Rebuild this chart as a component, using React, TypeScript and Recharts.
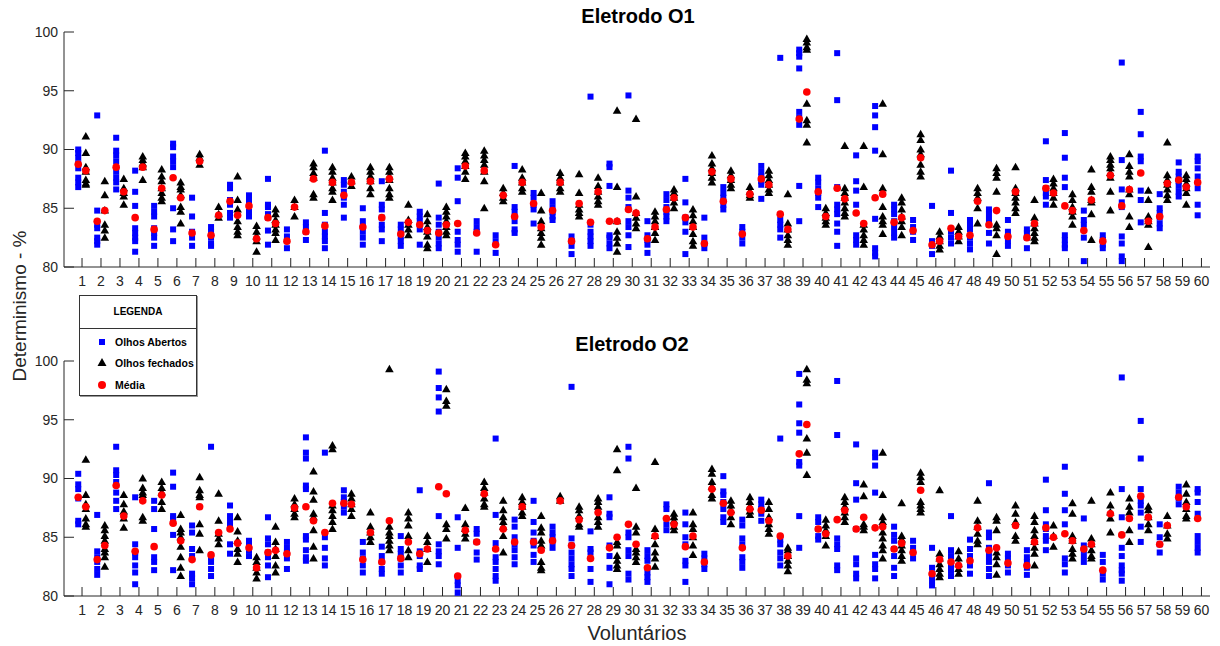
import { ScatterChart, Scatter, XAxis, YAxis } from "recharts";

// volunteers 1..60 (x categories)
const volunteers = [
  1, 2, 3, 4, 5, 6, 7, 8, 9, 10, 11, 12, 13, 14, 15, 16, 17, 18, 19, 20,
  21, 22, 23, 24, 25, 26, 27, 28, 29, 30, 31, 32, 33, 34, 35, 36, 37, 38, 39, 40,
  41, 42, 43, 44, 45, 46, 47, 48, 49, 50, 51, 52, 53, 54, 55, 56, 57, 58, 59, 60,
];
const yTicks = [80, 85, 90, 95, 100];

// Eletrodo O1 - olhos abertos
const o1Open: number[][] = [
  [90.0, 89.7, 89.3, 88.8, 88.4, 87.6, 87.2, 86.8],
  [92.9, 84.8, 83.6, 83.3, 82.5, 82.2, 81.9],
  [91.0, 89.9, 89.5, 89.0, 88.1, 87.6, 87.2, 86.6],
  [88.2, 86.4, 85.2, 83.3, 82.9, 82.5, 82.2, 81.3],
  [85.2, 84.7, 84.3, 83.3, 82.9, 82.5, 81.8],
  [90.5, 90.2, 89.4, 89.0, 88.5, 85.0, 83.2, 82.2],
  [85.9, 84.3, 83.0, 82.5, 81.8],
  [83.4, 83.0, 82.5, 82.0, 81.8],
  [87.0, 86.7, 85.7, 85.3, 84.6, 84.2],
  [86.1, 85.7, 84.7, 84.3],
  [87.5, 85.3, 85.1, 84.5, 84.2, 83.1, 81.9],
  [83.2, 82.6, 82.2, 81.6],
  [83.8, 83.4, 83.0, 82.3],
  [89.9, 84.6, 83.6, 83.0, 82.6, 82.2, 81.6],
  [87.4, 87.0, 86.4, 85.9, 85.3, 84.2],
  [85.0, 83.9, 83.4, 83.0, 82.5, 81.9],
  [87.3, 85.3, 84.9, 84.2, 83.6, 83.2, 82.2],
  [83.6, 83.2, 82.6, 82.2, 81.8],
  [84.7, 84.3, 83.9, 83.2, 81.9],
  [87.1, 84.2, 83.6, 83.0, 82.5, 82.0, 81.6],
  [88.4, 87.6, 85.6, 83.0, 82.3, 81.9, 81.3],
  [83.9, 83.4, 83.0, 81.3],
  [82.7, 82.2, 81.2],
  [88.6, 85.1, 84.7, 83.9, 83.2, 82.9],
  [86.3, 85.9, 85.3, 84.9, 83.7],
  [85.6, 85.1, 84.7, 84.3, 84.0],
  [82.6, 82.2, 81.8, 81.1],
  [94.5, 83.6, 83.0, 82.6, 82.2, 81.8],
  [88.8, 88.5, 86.9, 82.7, 82.5, 82.0, 81.6],
  [94.6, 86.5, 85.9, 85.1, 83.9, 83.4, 82.7, 81.7],
  [83.9, 82.7, 82.3, 81.9, 81.2],
  [86.2, 85.7, 85.1, 84.7, 84.3, 83.9],
  [87.5, 85.5, 84.2, 83.8, 83.0, 81.1],
  [84.2, 82.5, 82.0, 81.6],
  [86.8, 86.3, 85.9, 85.3, 84.9],
  [83.4, 83.0, 82.5, 82.0],
  [88.6, 88.1, 87.7, 87.3, 87.0, 85.8],
  [97.8, 84.0, 83.6, 83.2, 82.5],
  [98.5, 98.2, 97.9, 96.9, 93.2, 92.7, 92.1, 86.9, 83.9],
  [87.6, 87.2, 86.7, 86.3, 85.9, 85.1],
  [98.2, 94.2, 86.8, 85.3, 84.9, 84.5, 83.7, 83.0, 81.8],
  [89.5, 87.3, 86.5, 85.3, 82.7, 82.3, 81.9],
  [93.7, 92.9, 91.9, 89.9, 84.1, 81.6, 81.2, 80.9],
  [85.3, 84.9, 84.5, 83.9, 83.4, 82.9, 82.5],
  [84.0, 83.4, 83.0, 82.3],
  [85.2, 82.2, 81.8, 81.1],
  [88.2, 84.6, 83.0, 82.5, 82.0],
  [84.0, 83.6, 83.2, 82.5, 82.0, 81.5],
  [84.9, 84.5, 84.0, 83.6, 82.9, 82.0],
  [84.0, 83.0, 82.6, 82.2, 81.8],
  [83.2, 82.9, 82.5, 81.6],
  [90.7, 87.4, 86.7, 86.3, 86.0, 85.3],
  [91.4, 89.3, 87.6, 86.8, 82.7, 82.3, 81.9, 81.6],
  [84.8, 84.0, 83.6, 82.5, 80.5],
  [82.7, 82.3, 81.9, 81.6],
  [97.4, 89.1, 86.6, 85.5, 85.1, 82.6, 82.0, 80.9, 80.5],
  [93.2, 91.3, 89.4, 89.0, 86.5, 85.7, 83.8],
  [86.2, 85.0, 84.6, 84.2, 83.7, 83.3],
  [88.9, 88.1, 87.7, 87.3, 86.9, 86.4, 86.0],
  [89.4, 89.0, 88.4, 87.7, 86.7, 85.3, 84.4],
];

// Eletrodo O1 - olhos fechados
const o1Closed: number[][] = [
  [91.1, 89.7, 88.5, 88.1, 87.4, 87.1, 87.0],
  [87.3, 86.1, 84.8, 83.6, 83.1, 82.5],
  [87.5, 86.7, 86.3, 86.0, 85.3],
  [89.4, 89.1, 88.8, 88.5, 87.4],
  [88.3, 87.7, 87.3, 86.7, 86.3, 85.9, 85.6],
  [87.2, 86.8, 86.6, 86.1, 85.1, 84.7, 83.7],
  [89.6, 89.3, 88.7],
  [85.1, 84.5, 84.2],
  [87.7, 85.7, 84.9, 83.9, 83.4, 83.0, 82.7],
  [83.5, 83.0, 82.6, 82.2, 81.3],
  [84.9, 84.5, 84.0, 83.6, 83.2, 82.9, 82.3],
  [85.7, 85.1, 84.3],
  [88.8, 88.5, 88.0, 87.6, 86.2, 85.9],
  [88.5, 88.1, 87.6, 87.2, 86.7, 86.4, 85.7],
  [87.7, 87.3, 86.9],
  [88.5, 88.1, 87.7, 87.3, 86.7, 86.2],
  [88.5, 88.1, 87.7, 87.4, 86.7, 86.2, 85.9],
  [85.3, 84.0, 83.6, 83.2, 82.7],
  [84.5, 83.9, 83.4, 83.0, 82.6, 81.9, 81.6],
  [85.1, 84.7, 84.3, 83.9, 83.4, 83.0, 82.7],
  [89.7, 89.4, 89.0, 88.6, 88.1, 87.5],
  [89.9, 89.5, 89.1, 88.7, 88.1, 87.3, 85.0],
  [86.7, 86.3, 85.9, 85.6],
  [88.3, 87.6, 87.2, 86.7, 86.4],
  [86.3, 84.8, 83.9, 83.3, 82.9, 82.5, 81.9],
  [88.0, 87.6, 87.2, 86.7, 86.4],
  [87.9, 86.3, 85.3, 84.9, 84.6, 84.3],
  [87.6, 86.9, 86.4, 86.0, 85.6, 85.3],
  [93.3, 86.8, 83.9, 83.0, 82.5, 82.0, 81.3],
  [92.6, 86.0, 84.6, 84.2, 83.7, 83.3],
  [84.7, 84.3, 83.9, 83.4, 82.9, 82.3],
  [86.6, 86.3, 85.9, 85.5, 85.0],
  [84.9, 84.4, 83.9, 83.4, 82.8, 82.2, 81.8],
  [89.5, 88.8, 88.4, 88.0, 87.6, 87.2],
  [88.2, 87.8, 87.4, 87.0, 86.7],
  [86.8, 86.4, 86.1, 85.9],
  [88.2, 87.8, 87.4, 87.0, 86.6, 86.3],
  [86.2, 83.7, 83.2, 82.7, 82.3, 81.9],
  [99.4, 99.1, 98.7, 98.5, 93.9, 92.5, 92.1, 90.6],
  [85.0, 84.6, 84.2, 83.9, 83.6],
  [90.3, 86.7, 86.3, 85.9, 85.5, 85.0, 84.6, 84.3],
  [90.3, 86.8, 83.6, 83.2, 82.7, 82.3, 81.9],
  [93.9, 89.6, 86.7, 85.1, 84.3, 83.9, 83.6, 82.8],
  [85.9, 85.5, 84.9, 84.3, 83.9, 83.4, 82.7],
  [91.3, 90.8, 90.0, 89.6, 88.7, 88.1, 87.7],
  [83.0, 82.6, 82.2, 81.8, 81.5],
  [83.4, 83.0, 82.6, 82.2],
  [86.7, 86.3, 85.9, 85.0, 83.7],
  [88.4, 88.0, 87.6, 86.4, 83.6, 83.3, 82.7, 81.1],
  [88.5, 86.7, 86.3, 85.9, 85.5, 85.0, 84.6],
  [85.7, 84.2, 83.7, 83.3, 82.9, 82.5, 82.2],
  [87.5, 87.1, 86.7, 86.3, 85.9, 85.3],
  [86.2, 85.7, 85.1, 84.7, 84.3, 83.6],
  [88.3, 86.8, 86.4, 85.7, 85.5, 84.5, 82.3],
  [89.4, 89.1, 88.7, 88.4, 88.0, 87.6, 86.4, 84.8],
  [89.6, 88.6, 88.1, 87.7, 86.6, 86.2, 84.3, 83.4],
  [86.5, 85.7, 84.3, 83.9, 83.6, 81.7],
  [90.6, 87.8, 87.4, 87.0, 86.6, 86.1, 85.7],
  [87.8, 87.5, 87.1, 86.7, 86.3, 85.3],
  [],
];

const o1OpenMean: (number | null)[] = [
  88.75, 83.9, 88.5, 84.2, 83.2, 87.6, 82.9, 82.7, 85.6, 85.2,
  84.2, 82.2, 83.0, 83.5, 86.1, 83.4, 84.2, 82.8, 83.6, 82.9,
  83.7, 82.9, 81.9, 84.3, 85.4, 84.8, 82.2, 83.8, 83.9, 84.9,
  82.4, 84.9, 84.2, 82.0, 85.6, 82.8, 87.5, 84.5, 92.6, 86.4,
  86.7, 84.6, 85.9, 83.8, 83.1, 81.9, 83.3, 82.7, 83.6, 82.6,
  82.5, 86.7, 85.2, 83.1, 82.2, 85.2, 88.0, 84.3, 87.4, 87.2,
];

const o1ClosedMean: (number | null)[] = [
  88.2, 84.8, 86.4, 88.5, 86.7, 85.9, 89.0, 84.4, 84.4, 82.4,
  83.7, 85.1, 87.5, 87.2, 87.2, 87.3, 87.5, 83.8, 83.1, 83.6,
  88.6, 88.2, 86.1, 87.2, 83.4, 87.2, 85.4, 86.4, 83.9, 84.6,
  83.4, 85.9, 83.4, 88.1, 87.5, 86.2, 87.0, 83.2, 94.9, 84.3,
  85.8, 83.7, 86.2, 84.2, 89.3, 82.2, 82.6, 85.6, 84.8, 86.4,
  83.7, 86.3, 84.8, 85.7, 87.8, 86.6, 83.9, 87.1, 86.8, null,
];

// Eletrodo O2 - olhos abertos
const o2Open: number[][] = [
  [90.4, 89.5, 89.1, 88.3, 86.4, 86.1],
  [86.9, 83.8, 83.3, 82.9, 82.3, 81.8],
  [92.7, 90.7, 90.3, 89.7, 88.8, 88.1, 87.4],
  [88.4, 84.4, 83.7, 83.3, 82.6, 82.0, 81.0],
  [88.1, 87.4, 85.7, 83.3, 82.9, 82.2],
  [90.5, 89.3, 86.8, 86.6, 85.2, 82.2],
  [86.0, 85.4, 84.0, 83.4, 81.9, 81.5, 81.0],
  [92.7, 83.3, 82.9, 82.3, 81.7],
  [87.7, 86.8, 86.4, 86.0, 84.4, 83.6],
  [84.7, 84.3, 83.9, 83.4],
  [86.7, 84.9, 84.4, 83.7, 83.3, 82.6, 81.6],
  [84.6, 84.1, 83.7, 83.2, 82.3],
  [93.5, 92.2, 91.7, 89.4, 89.1, 85.1, 84.8, 83.9, 83.3, 83.0],
  [92.2, 85.0, 84.1, 83.2, 82.6],
  [89.0, 88.4, 88.0, 87.6, 87.1],
  [84.6, 83.7, 83.2, 82.6, 82.0],
  [84.2, 83.4, 82.9, 82.3, 81.9],
  [85.1, 84.0, 83.6, 83.2, 82.6, 82.0],
  [89.0, 83.8, 83.4, 82.6, 82.3],
  [99.1, 97.7, 96.9, 95.7, 86.8, 84.4, 83.8, 83.4, 82.7],
  [86.7, 84.1, 81.3, 80.9, 80.3, 79.8],
  [85.7, 85.3, 84.6, 83.7, 83.1],
  [93.4, 86.9, 84.5, 83.3, 82.9, 82.3, 81.7, 81.3],
  [86.5, 85.9, 85.0, 84.4, 83.9, 83.3, 82.7],
  [88.1, 86.3, 85.4, 84.7, 84.3, 83.5, 82.9],
  [85.9, 85.4, 85.0, 84.6, 84.1],
  [97.8, 84.9, 84.3, 83.7, 83.2, 82.7, 82.3, 81.7],
  [85.5, 84.0, 83.7, 82.3, 81.2],
  [88.4, 87.0, 86.7, 84.3, 83.4, 82.4, 81.0],
  [92.7, 91.7, 85.4, 85.0, 83.9, 83.4, 81.9, 81.4],
  [83.9, 83.4, 83.0, 82.0, 81.6, 81.2],
  [87.8, 87.4, 86.1, 85.6],
  [87.1, 86.1, 85.0, 84.4, 83.0, 82.6, 81.2],
  [83.6, 83.2, 82.7, 82.3],
  [90.2, 88.9, 88.6, 88.0, 87.4, 86.7, 86.3],
  [86.5, 86.0, 84.9, 84.4, 83.3, 82.9, 82.4],
  [88.2, 87.8, 87.4, 87.0, 86.4],
  [93.4, 84.8, 84.4, 83.7, 83.2, 82.6],
  [98.9, 96.3, 94.7, 93.9, 91.4, 91.1, 86.8, 84.1],
  [86.7, 86.3, 85.7, 85.1, 84.8],
  [98.3, 93.7, 84.9, 84.4, 84.0, 82.6, 82.2],
  [92.9, 89.6, 88.2, 85.7, 83.2, 82.7, 81.9, 81.5],
  [92.2, 91.8, 91.1, 88.8, 83.5, 82.7, 82.3, 81.5],
  [85.9, 85.2, 84.7, 84.0, 83.4, 82.4, 81.7],
  [84.7, 84.1, 83.7, 83.2],
  [84.1, 82.4, 81.7, 81.3, 80.9],
  [86.8, 83.9, 83.4, 82.6, 82.2, 81.7],
  [84.8, 84.0, 83.4, 82.6, 81.9],
  [89.6, 85.4, 85.0, 84.1, 83.4, 82.9, 82.3, 81.7],
  [83.6, 83.2, 82.6, 82.0],
  [83.9, 83.3, 82.9, 82.4, 81.8],
  [89.9, 87.3, 86.1, 85.7, 85.1, 84.7, 83.9],
  [91.0, 88.7, 87.3, 86.1, 83.2, 82.7, 82.0],
  [86.6, 84.3, 83.9, 83.4, 82.9],
  [83.5, 82.9, 81.9, 81.4],
  [98.6, 89.1, 86.7, 84.1, 83.4, 82.6, 82.2, 81.9, 81.3],
  [94.9, 91.7, 89.1, 88.1, 87.7, 87.1, 85.9, 84.6],
  [86.1, 85.0, 84.4, 83.7],
  [89.3, 88.8, 88.3, 87.8],
  [89.1, 88.8, 88.0, 87.0, 85.1, 84.6, 84.1, 83.7],
];

// Eletrodo O2 - olhos fechados
const o2Closed: number[][] = [
  [91.6, 88.6, 87.8, 87.4, 86.6, 86.1, 85.9],
  [86.0, 85.6, 85.1, 84.7, 84.0, 83.7, 83.3, 82.5],
  [88.6, 87.8, 87.2, 86.6, 85.8],
  [90.0, 89.2, 88.8, 88.6, 86.7, 86.4],
  [89.7, 89.2, 88.8, 88.0, 87.4],
  [86.9, 85.7, 85.4, 85.0, 84.2, 83.3, 82.4, 81.7],
  [90.1, 89.0, 88.6, 88.4, 86.1, 85.3, 83.9],
  [88.7, 86.4, 85.3, 84.9, 84.4],
  [86.7, 85.5, 84.7, 84.0, 83.6, 82.9],
  [83.3, 82.9, 82.4, 82.0, 81.5],
  [85.9, 84.6, 84.0, 83.4, 82.6, 82.0],
  [88.3, 87.8, 87.4, 87.0, 86.7],
  [90.6, 88.9, 88.2, 87.0, 86.7, 85.6, 84.2, 83.2],
  [92.8, 92.5, 87.7, 87.3, 86.8, 86.3, 85.7],
  [88.7, 88.3, 87.8, 87.4, 86.8],
  [87.1, 85.9, 85.4, 85.0, 84.6],
  [99.3, 85.9, 85.4, 85.1, 84.7, 84.3, 83.9],
  [87.1, 86.6, 86.0, 85.1, 83.9, 83.3],
  [85.1, 84.6, 84.0, 82.9],
  [97.6, 96.6, 96.2, 86.1, 85.7, 84.9],
  [87.5, 86.1, 85.7, 85.3, 84.9],
  [89.7, 89.2, 88.8, 88.3, 87.8, 87.6],
  [88.1, 87.3, 86.7, 86.3, 85.9, 85.1, 83.7],
  [88.4, 88.0, 87.6, 87.1, 86.8],
  [86.8, 85.8, 85.4, 84.7, 84.3, 82.9, 82.4, 82.2],
  [88.5, 88.1],
  [87.6, 87.3, 86.8, 86.1, 85.9],
  [88.3, 88.0, 87.6, 86.7, 86.3, 85.9],
  [92.5, 90.7, 84.6, 84.3, 83.4, 83.0, 82.6, 82.3],
  [89.2, 85.9, 85.4, 84.0, 83.7, 83.3, 82.9],
  [91.4, 85.7, 85.1, 84.4, 83.7, 83.2, 82.5],
  [87.0, 86.7, 86.4, 85.9, 85.6],
  [87.1, 86.1, 85.7, 85.0, 84.3, 83.5],
  [90.8, 90.4, 89.7, 89.3, 88.6, 88.3],
  [88.1, 87.7, 87.3, 86.7, 86.1],
  [88.4, 88.0, 87.6, 87.2, 86.9],
  [88.0, 87.4, 86.7, 86.1, 85.7, 85.3],
  [84.1, 83.9, 83.4, 83.0, 82.6, 82.1],
  [99.3, 98.4, 98.1, 93.4, 92.2, 90.3],
  [86.5, 86.0, 85.6, 85.1, 84.3],
  [88.4, 88.0, 87.6, 87.1, 86.7, 86.3],
  [89.5, 88.5, 86.1, 85.9, 85.6],
  [92.2, 88.6, 86.7, 86.3, 85.4, 84.9, 84.3, 83.9, 83.2],
  [87.9, 85.1, 84.8, 84.3, 83.9, 83.4, 83.0],
  [90.5, 90.1, 89.7, 88.0, 87.7, 87.4, 87.1],
  [89.0, 83.6, 83.2, 82.7, 82.3, 81.9, 81.6],
  [83.8, 83.2, 82.7, 82.3, 81.9],
  [88.1, 86.4, 85.9, 85.3, 84.7, 84.4],
  [86.7, 86.4, 85.6, 83.7, 83.3, 82.7, 81.8],
  [87.7, 87.0, 86.3, 85.1, 84.7],
  [86.8, 86.3, 85.6, 85.1, 84.6, 84.1, 83.6, 82.6],
  [86.0, 85.1, 84.2],
  [87.9, 87.0, 85.1, 84.7, 84.0, 83.6, 83.2],
  [88.1, 84.9, 84.4, 83.9, 83.4, 83.2],
  [88.8, 87.7, 87.1, 86.6, 85.4],
  [88.3, 87.6, 87.1, 85.6, 84.6],
  [87.6, 87.3, 86.7, 86.1, 85.6],
  [86.8, 86.0, 85.3, 84.9],
  [89.5, 88.7, 88.0, 87.4, 86.8, 86.6],
  [],
];

const o2OpenMean: (number | null)[] = [
  88.4, 83.1, 89.4, 83.8, 84.2, 86.2, 83.1, 83.5, 85.7, 84.1,
  83.7, 83.6, 87.6, 85.4, 87.9, 83.1, 82.9, 83.2, 83.6, 89.3,
  81.7, 84.6, 84.0, 84.6, 84.6, 84.7, 84.3, 83.2, 84.1, 86.1,
  82.4, 86.6, 84.2, 82.9, 87.9, 84.1, 87.3, 85.1, 92.1, 85.7,
  86.5, 85.7, 85.8, 84.0, 83.7, 81.9, 82.9, 83.0, 83.9, 82.8,
  82.6, 85.8, 85.3, 84.0, 82.2, 85.2, 88.5, 84.4, 88.4, 86.6,
];

const o2ClosedMean: (number | null)[] = [
  87.6, 84.3, 86.8, 88.1, 88.6, 84.7, 87.6, 85.4, 84.5, 82.4,
  83.9, 87.5, 86.4, 87.9, 87.8, 85.4, 86.4, 84.6, 84.0, 88.7,
  85.6, 88.7, 85.7, 87.6, 83.9, 88.1, 86.5, 87.1, 85.0, 84.4,
  85.1, 86.1, 85.1, 89.1, 87.1, 87.4, 86.4, 83.4, 94.6, 85.3,
  87.3, 86.7, 85.9, 84.5, 89.0, 83.1, 82.6, 85.8, 84.1, 86.0,
  84.6, 85.0, 84.7, 84.4, 87.0, 86.6, 86.7, 86.0, 87.6, null,
];

const FONT = "'Liberation Sans', Arial, sans-serif";
const AXIS = "#262626";
const OPEN_SHIFT = -0.2;
const CLOSED_SHIFT = 0.2;

type Pt = { x: number; y: number };

const toPoints = (groups: number[][], shift: number): Pt[] =>
  groups.flatMap((vals, i) => vals.map((y) => ({ x: volunteers[i] + shift, y })));

const toMeans = (means: (number | null)[], shift: number): Pt[] =>
  means.flatMap((y, i) => (y === null ? [] : [{ x: volunteers[i] + shift, y }]));

const Square = (p: any) => (
  <rect x={p.cx - 3} y={p.cy - 3} width={6} height={6} fill="#0000ff" />
);
const Triangle = (p: any) => (
  <polygon
    points={`${p.cx},${p.cy - 4.5} ${p.cx + 4.3},${p.cy + 3} ${p.cx - 4.3},${p.cy + 3}`}
    fill="#000000"
  />
);
const Dot = (p: any) => <circle cx={p.cx} cy={p.cy} r={3.8} fill="#ff0000" />;

type PanelProps = {
  open: number[][];
  closed: number[][];
  openMean: (number | null)[];
  closedMean: (number | null)[];
  height: number;
  top: number;
  axisHeight: number;
};

const Panel = ({ open, closed, openMean, closedMean, height, top, axisHeight }: PanelProps) => (
  <ScatterChart width={1220} height={height} margin={{ top, right: 10, bottom: 0, left: 0 }}>
    <XAxis
      type="number"
      dataKey="x"
      domain={[0.05, 60.45]}
      ticks={volunteers}
      interval={0}
      allowDataOverflow
      height={axisHeight}
      tickSize={-9}
      tickMargin={18}
      axisLine={{ stroke: AXIS }}
      tickLine={{ stroke: AXIS }}
      tick={{ fill: AXIS, fontSize: 14, fontFamily: FONT }}
    />
    <YAxis
      type="number"
      dataKey="y"
      domain={[80, 100]}
      ticks={yTicks}
      allowDataOverflow
      width={64}
      tickSize={-10}
      tickMargin={16}
      axisLine={{ stroke: AXIS }}
      tickLine={{ stroke: AXIS }}
      tick={{ fill: AXIS, fontSize: 14, fontFamily: FONT }}
    />
    <Scatter data={toPoints(open, OPEN_SHIFT)} shape={Square} isAnimationActive={false} />
    <Scatter data={toPoints(closed, CLOSED_SHIFT)} shape={Triangle} isAnimationActive={false} />
    <Scatter data={toMeans(openMean, OPEN_SHIFT)} shape={Dot} isAnimationActive={false} />
    <Scatter data={toMeans(closedMean, CLOSED_SHIFT)} shape={Dot} isAnimationActive={false} />
  </ScatterChart>
);

const legendRow = (symbol: any, label: string) => (
  <div style={{ display: "flex", alignItems: "center", height: 21.5, whiteSpace: "nowrap" }}>
    <svg width={26} height={14} style={{ flex: "none" }}>
      {symbol}
    </svg>
    <span>{label}</span>
  </div>
);

export default function App() {
  return (
    <div
      style={{
        position: "fixed",
        left: 0,
        top: 0,
        width: 1220,
        height: 646,
        background: "#fff",
        fontFamily: FONT,
        color: AXIS,
        overflow: "hidden",
      }}
    >
      <div style={{ position: "absolute", left: 0, top: 0 }}>
        <Panel open={o1Open} closed={o1Closed} openMean={o1OpenMean} closedMean={o1ClosedMean} height={300} top={32} axisHeight={33} />
      </div>
      <div style={{ position: "absolute", left: 0, top: 300 }}>
        <Panel open={o2Open} closed={o2Closed} openMean={o2OpenMean} closedMean={o2ClosedMean} height={346} top={61} axisHeight={50} />
      </div>

      <div style={{ position: "absolute", left: 338, width: 600, top: 5, textAlign: "center", fontWeight: "bold", fontSize: 20, color: "#000" }}>
        Eletrodo O1
      </div>
      <div style={{ position: "absolute", left: 332, width: 600, top: 333, textAlign: "center", fontWeight: "bold", fontSize: 20, color: "#000" }}>
        Eletrodo O2
      </div>
      <div style={{ position: "absolute", left: 337, width: 600, top: 622, textAlign: "center", fontSize: 20 }}>
        Voluntários
      </div>
      <div
        style={{
          position: "absolute",
          left: 20,
          top: 306,
          transform: "translate(-50%, -50%) rotate(-90deg)",
          whiteSpace: "nowrap",
          fontSize: 19,
        }}
      >
        Determinismo - %
      </div>

      <div
        style={{
          position: "absolute",
          left: 79,
          top: 295,
          width: 116,
          height: 99,
          background: "#fff",
          border: "1px solid #333",
          boxShadow: "1px 1px 0 #999",
          fontSize: 10.5,
          fontWeight: "bold",
          color: "#000",
          overflow: "hidden",
        }}
      >
        <div style={{ height: 32, lineHeight: "32px", textAlign: "center", borderBottom: "1px solid #333", fontSize: 10 }}>
          LEGENDA
        </div>
        <div style={{ padding: "2px 0 0 9px" }}>
          {legendRow(<rect x={10} y={4} width={6} height={6} fill="#0000ff" />, "Olhos Abertos")}
          {legendRow(<polygon points="13,2 17.5,10 8.5,10" fill="#000" />, "Olhos fechados")}
          {legendRow(<circle cx={13} cy={7} r={4} fill="#ff0000" />, "Média")}
        </div>
      </div>
    </div>
  );
}
